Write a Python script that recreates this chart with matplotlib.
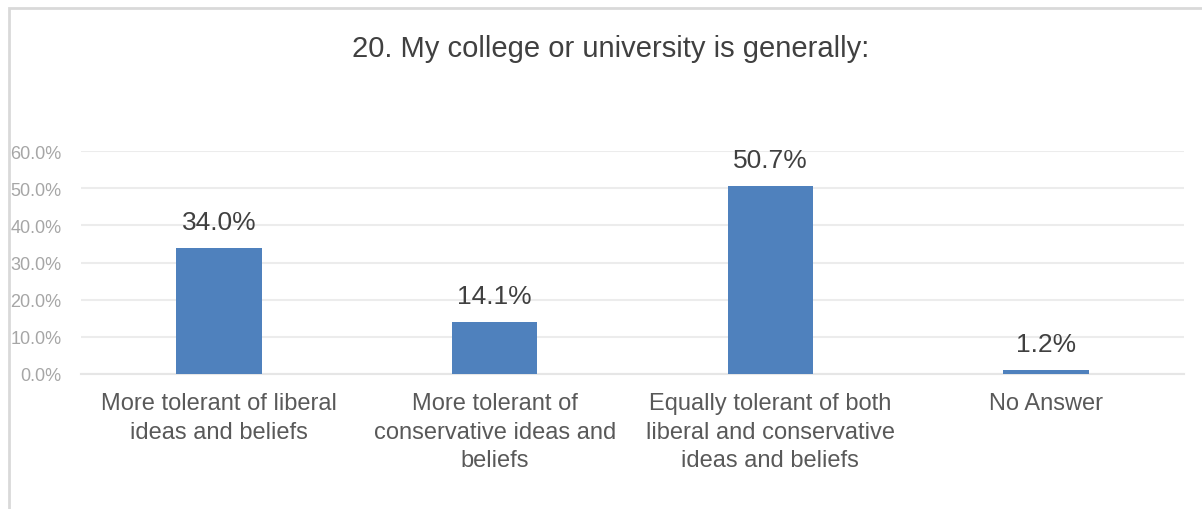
import matplotlib
matplotlib.use("Agg")
import matplotlib.pyplot as plt
from matplotlib.patches import Rectangle
from matplotlib.ticker import FuncFormatter

plt.rcParams['font.family'] = ['Liberation Sans', 'DejaVu Sans']

title = "20. My college or university is generally:"
categories = [
    "More tolerant of liberal\nideas and beliefs",
    "More tolerant of\nconservative ideas and\nbeliefs",
    "Equally tolerant of both\nliberal and conservative\nideas and beliefs",
    "No Answer",
]
values = [34.0, 14.1, 50.7, 1.2]
yticks = [0, 10, 20, 30, 40, 50, 60]

fig = plt.figure(figsize=(12.02, 5.10), dpi=100)
ax = fig.add_axes([81 / 1202, 135 / 510, 1103 / 1202, 223 / 510])

# chart border (only left and top edges show in the crop)
fig.patches.append(Rectangle((8.5 / 1202, -0.2), 1.5, (510 - 9) / 510 + 0.2,
                             transform=fig.transFigure, fill=False,
                             edgecolor='#d9d9d9', linewidth=2))

x = range(len(values))
bars = ax.bar(x, values, width=0.31, color='#4f81bd', zorder=3)
for b, v in zip(bars, values):
    ax.annotate("%.1f%%" % v, (b.get_x() + b.get_width() / 2, v),
                xytext=(0, 9.5), textcoords='offset points',
                ha='center', va='bottom', fontsize=19, color='#404040')

ax.set_xlim(-0.5, len(values) - 0.5)
ax.set_ylim(0, 60)
ax.set_yticks(yticks)
ax.yaxis.set_major_formatter(FuncFormatter(lambda v, p: "%.1f%%" % v))
ax.grid(axis='y', color='#ececec', linewidth=1.5, zorder=0)
ax.set_xticks(list(x))
ax.set_xticklabels(categories, fontsize=17, color='#595959', linespacing=1.38)
for s in ax.spines.values():
    s.set_visible(False)
ax.spines['bottom'].set_visible(True)
ax.spines['bottom'].set_color('#e6e6e6')
ax.spines['bottom'].set_linewidth(1.5)
ax.tick_params(axis='x', length=0, pad=13)
ax.tick_params(axis='y', length=0, labelsize=13, labelcolor='#a6a6a6', pad=14)

fig.text(0.508, 1 - 49 / 510, title, ha='center', va='center',
         fontsize=21, color='#404040')

fig.savefig("out.png", dpi=100, facecolor='white')
